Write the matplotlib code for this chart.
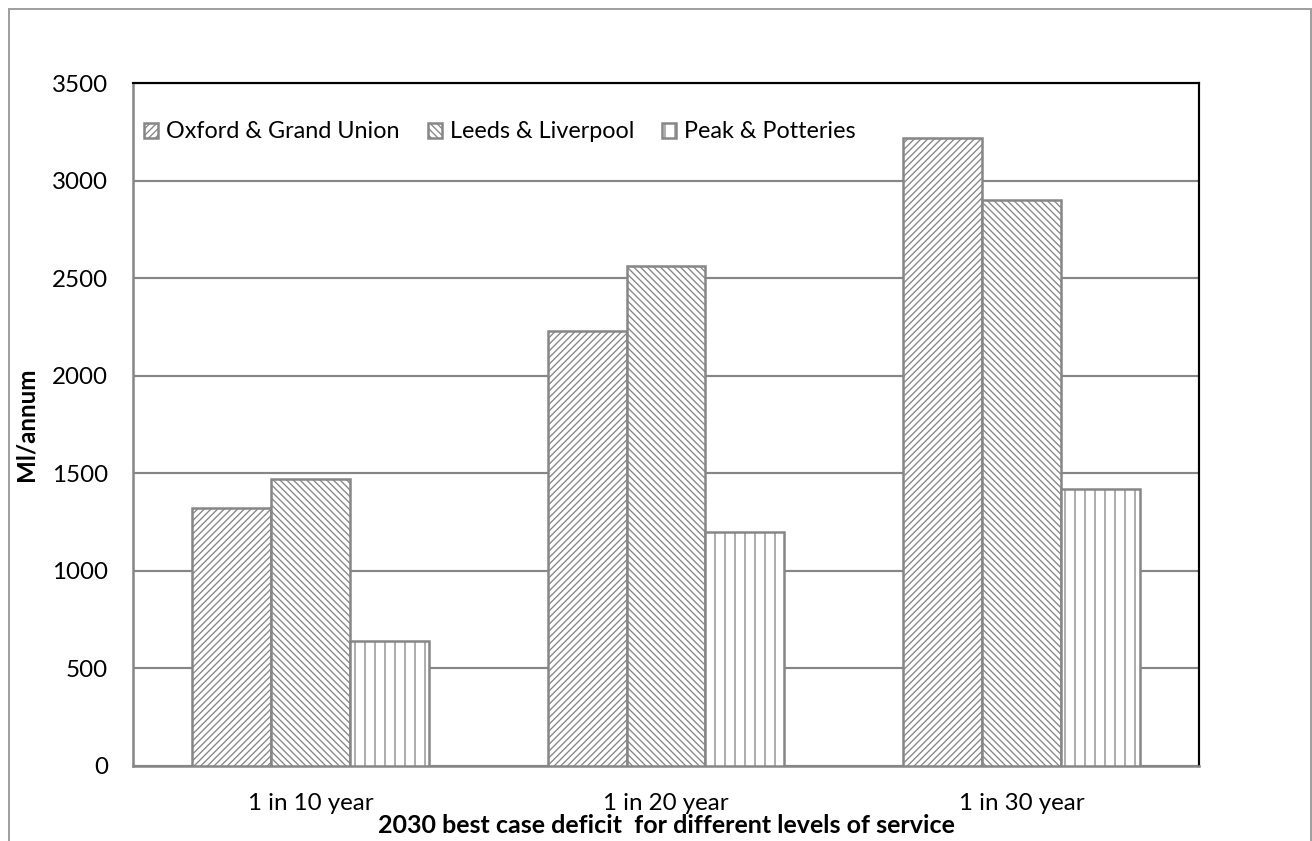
import matplotlib
matplotlib.use("Agg")
import matplotlib.pyplot as plt
from matplotlib.lines import Line2D
import numpy as np

# Deficit (Ml/annum) per canal region for each level of service
categories = ["1 in 10 year", "1 in 20 year", "1 in 30 year"]
series_names = ["Oxford & Grand Union", "Leeds & Liverpool", "Peak & Potteries"]
oxford_grand_union = [1320, 2230, 3220]
leeds_liverpool = [1470, 2560, 2900]
peak_potteries = [640, 1200, 1420]
y_ticks = [0, 500, 1000, 1500, 2000, 2500, 3000, 3500]

series_values = [oxford_grand_union, leeds_liverpool, peak_potteries]
hatches = ["//////", "\\" * 6, "||"]

GREY = "#868686"
DPI = 120
plt.rcParams["font.family"] = ["Lato", "DejaVu Sans"]
plt.rcParams["hatch.linewidth"] = 0.8

fig = plt.figure(figsize=(1312 / DPI, 841 / DPI), dpi=DPI)
ax = fig.add_axes([133 / 1312, 1 - 766 / 841, (1199 - 133) / 1312, (766 - 83) / 841])

x = np.arange(len(categories))
width = 0.2223
for i, (name, vals, h) in enumerate(zip(series_names, series_values, hatches)):
    ax.bar(x + (i - 1) * width, vals, width, label=name, facecolor="white",
           edgecolor=GREY, hatch=h, linewidth=1.5, zorder=3)

ax.set_xlim(-0.5, len(categories) - 0.5)
ax.set_ylim(0, 3500)
ax.set_yticks(y_ticks)
ax.set_yticklabels([str(v) for v in y_ticks], fontsize=14.5)
ax.set_xticks(x)
ax.set_xticklabels(categories, fontsize=14.5)
ax.tick_params(axis="both", length=0)
ax.tick_params(axis="y", pad=15)
ax.tick_params(axis="x", pad=16)

ax.yaxis.grid(True, color=GREY, linewidth=1.3, zorder=0)
ax.set_axisbelow(True)

for side in ("top", "right"):
    ax.spines[side].set_color("black")
    ax.spines[side].set_linewidth(1.3)
for side in ("left", "bottom"):
    ax.spines[side].set_color(GREY)
    ax.spines[side].set_linewidth(1.5)

ax.set_ylabel("Ml/annum", fontsize=14.5, fontweight="bold")
ax.yaxis.set_label_coords((38 - 133) / 1066, 0.5)
ax.set_xlabel("2030 best case deficit  for different levels of service",
              fontsize=15, fontweight="bold", labelpad=0)

ax.legend(loc="center left", bbox_to_anchor=(11 / 1066, (766 - 132) / 683), ncol=3,
          frameon=False, fontsize=14, handlelength=0.6, handleheight=0.6,
          handletextpad=0.35, columnspacing=1.2, borderaxespad=0, borderpad=0)

# chart-area border
for xs, ys in (([9, 9], [9, 841]), ([9, 1311], [9, 9]), ([1311, 1311], [9, 841])):
    fig.add_artist(Line2D([v / 1312 for v in xs], [1 - v / 841 for v in ys],
                          color="#a0a0a0", linewidth=1.2, transform=fig.transFigure))

fig.savefig("out.png", dpi=DPI, facecolor="white")
